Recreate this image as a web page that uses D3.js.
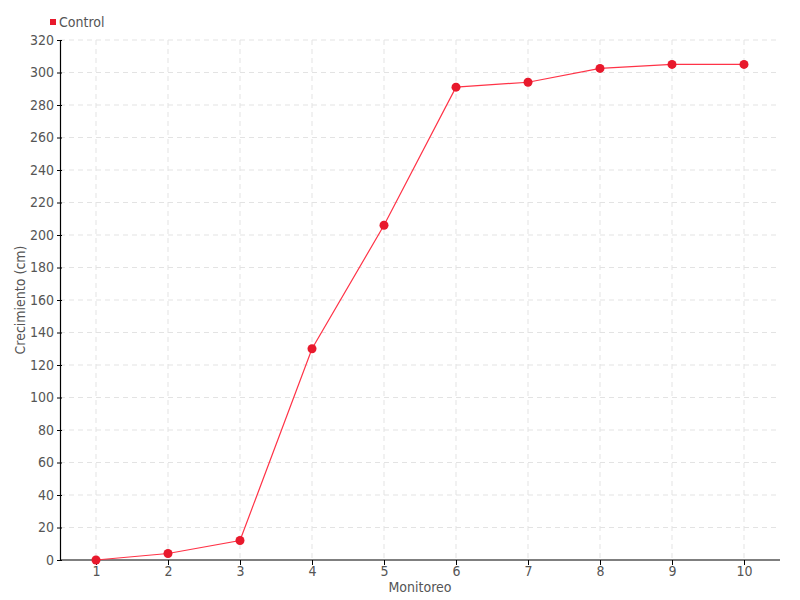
<!DOCTYPE html>
<html><head><meta charset="utf-8">
<script src="https://cdn.jsdelivr.net/npm/d3@7"></script>
<style>body{margin:0;background:#fff}svg{display:block}text{font-family:"DejaVu Sans Condensed","Liberation Sans Narrow",sans-serif}</style>
</head><body><svg id="c" width="800" height="600"></svg>
<script>
const categories = [1,2,3,4,5,6,7,8,9,10];
const control = [0,4,12,130,206,291,294,302.5,305,305];
const yTicks = [0,20,40,60,80,100,120,140,160,180,200,220,240,260,280,300,320];
const seriesName = "Control";

const svg = d3.select("#c");
const L=60,R=780,T=40,B=560;
const x = d3.scalePoint().domain(categories).range([L,R]).padding(0.5);
const y = d3.scaleLinear().domain([0,320]).range([B,T]);

const grid = svg.append("g");
grid.selectAll("line.h").data(yTicks.filter(d=>d>0)).join("line")
  .attr("x1",L).attr("x2",R).attr("y1",d=>y(d)).attr("y2",d=>y(d))
  .attr("stroke","#e3e3e3").attr("stroke-dasharray","5,4");
grid.selectAll("line.v").data(categories).join("line")
  .attr("x1",d=>x(d)).attr("x2",d=>x(d)).attr("y1",T).attr("y2",B)
  .attr("stroke","#e3e3e3").attr("stroke-dasharray","5,4");

const ya = svg.append("g").attr("transform",`translate(${L},0)`)
  .call(d3.axisLeft(y).tickValues(yTicks).tickSize(3).tickPadding(3).tickSizeOuter(0));
ya.select(".domain").attr("stroke","#000").attr("stroke-width",1.2);
ya.selectAll(".tick line").attr("stroke","#000").attr("x2",2).attr("x1",-3);
ya.selectAll("text").attr("fill","#555").attr("font-size",14);

const xa = svg.append("g").attr("transform",`translate(0,${B})`)
  .call(d3.axisBottom(x).tickSize(5).tickPadding(1).tickSizeOuter(0));
xa.select(".domain").attr("stroke","#000").attr("stroke-width",1.2).attr("d",`M${L},0H${R}`);
xa.selectAll(".tick line").attr("stroke","#000");
xa.selectAll("text").attr("fill","#555").attr("font-size",14);

svg.append("text").attr("x",420).attr("y",592).attr("text-anchor","middle")
  .attr("fill","#555").attr("font-size",14).text("Monitoreo");
svg.append("text").attr("transform","translate(25,300) rotate(-90)").attr("text-anchor","middle")
  .attr("fill","#555").attr("font-size",14).text("Crecimiento (cm)");

const line = d3.line().x((d,i)=>x(categories[i])).y(d=>y(d));
svg.append("path").datum(control).attr("d",line).attr("fill","none")
  .attr("stroke","#ff3347").attr("stroke-width",1.2);
svg.selectAll("circle").data(control).join("circle")
  .attr("cx",(d,i)=>x(categories[i])).attr("cy",d=>y(d)).attr("r",4.5)
  .attr("fill","#e8192c");

svg.append("rect").attr("x",50).attr("y",19).attr("width",6).attr("height",6).attr("fill","#e8192c");
svg.append("text").attr("x",59).attr("y",27).attr("fill","#555").attr("font-size",14).text(seriesName);
</script></body></html>
